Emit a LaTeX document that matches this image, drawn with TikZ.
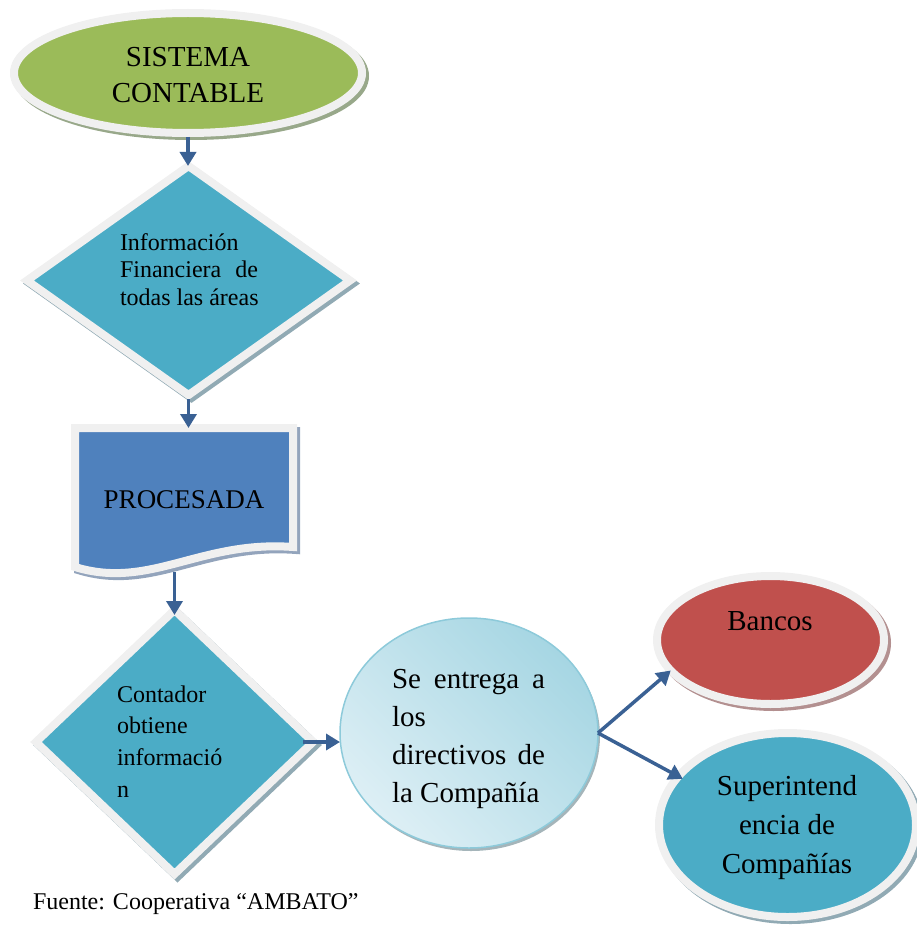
\documentclass[tikz,border=0pt]{standalone}
\usepackage{fontspec}
\setmainfont{Liberation Serif}
\usetikzlibrary{shapes.geometric,arrows.meta}
\definecolor{bord}{HTML}{F0F0F0}
\definecolor{green1}{HTML}{9BBB59}
\definecolor{teal1}{HTML}{4BACC6}
\definecolor{blue1}{HTML}{4F81BD}
\definecolor{red1}{HTML}{C0504D}
\definecolor{arr}{HTML}{3A6194}
\definecolor{shgreen}{HTML}{98A88A}
\definecolor{shteal}{HTML}{91AAB4}
\definecolor{shblue}{HTML}{93A4BC}
\definecolor{shred}{HTML}{B39090}
\definecolor{shcirc}{HTML}{A5B5BA}
\definecolor{cilight}{HTML}{DDEFF5}
\definecolor{cidark}{HTML}{A6D6E3}
\definecolor{ciedge}{HTML}{8DCADA}
\begin{document}
\begin{tikzpicture}[x=1pt,y=-1pt,
  shp/.style={draw=bord, line width=8pt, inner sep=0pt, outer sep=0pt},
  shad/.style={preaction={draw=#1, fill=#1, line width=8pt, transform canvas={shift={(3pt,-3pt)}}}},
  conn/.style={draw=arr, line width=3.5pt, -{Triangle[length=14pt,width=16pt]}},
  txt/.style={inner sep=0pt, outer sep=0pt}
]
\useasboundingbox (0,0) rectangle (916,928);

% shapes
\node[ellipse, shp, shad=shgreen, fill=green1, minimum width=348pt, minimum height=120pt] (e1) at (188,73) {};
\node[diamond, shp, shad=shteal, fill=teal1, minimum width=323pt, minimum height=229pt] (d1) at (188.5,280.5) {};
\path[shp, shad=shblue, fill=blue1] (75,428) -- (293,428) -- (293,547) .. controls (200,540) and (150,590) .. (75,567) -- cycle;
\node[txt, minimum width=218pt, minimum height=144pt, font=\fontsize{27}{32}\selectfont] (doc) at (184,500) {PROCESADA};
\node[diamond, shp, shad=shteal, fill=teal1, minimum width=277pt, minimum height=264pt] (d2) at (174.5,742) {};
\node[ellipse, draw=ciedge, line width=1.5pt, inner sep=0pt, outer sep=0pt, minimum width=258pt, minimum height=230pt,
  preaction={fill=shcirc, transform canvas={shift={(2pt,-3pt)}}},
  top color=cidark, bottom color=cilight, shading angle=-45] (ci) at (469,733) {};
\node[ellipse, shp, shad=shred, fill=red1, minimum width=227pt, minimum height=128pt] (ba) at (770.5,640) {};
\node[ellipse, shp, shad=shteal, fill=teal1, minimum width=257pt, minimum height=184pt] (su) at (787.5,825) {};

% texts
\node[txt, anchor=base, font=\fontsize{29}{36}\selectfont] (t1) at (188,67) {\parbox[t]{240pt}{\centering SISTEMA\\CONTABLE}};
\node[txt, anchor=base west, font=\fontsize{24}{27.5}\selectfont] (t2) at (120,250) {\parbox[t]{150pt}{Información\\\makebox[138pt][s]{Financiera de}\\todas las áreas}};
\node[txt, anchor=base west, font=\fontsize{24}{31.7}\selectfont] (t3) at (117,702) {\parbox[t]{150pt}{Contador\\obtiene\\informació\\n}};
\node[txt, anchor=base west, font=\fontsize{29}{38.3}\selectfont] (t4) at (392,688) {\parbox[t]{153pt}{\makebox[153pt][s]{Se entrega a}\\los\\\makebox[153pt][s]{directivos de}\\la Compañía}};
\node[txt, anchor=base, font=\fontsize{29}{36}\selectfont] (t5) at (770,630) {Bancos};
\node[txt, anchor=base, font=\fontsize{29}{39}\selectfont] (t6) at (787,795) {\parbox[t]{220pt}{\centering Superintend\\encia de\\Compañías}};
\node[txt, anchor=base west, font=\fontsize{24}{28}\selectfont] (t7) at (33,909) {Fuente: Cooperativa “AMBATO”};

% connectors
\draw[conn, shorten <=4pt] (e1.south) -- (e1.south |- d1.north);
\draw[conn, shorten <=4pt] (d1.south) -- (d1.south |- doc.north);
\draw[conn, shorten >=-5pt] (doc.south -| d2.north) -- (d2.north);
\draw[conn] ([xshift=-10pt]d2.east) -- (d2.east -| ci.west);
\draw[conn] (ci.east) -- (ba.197);
\draw[conn, shorten >=-5pt] (ci.east) -- (su.156);
\end{tikzpicture}
\end{document}
